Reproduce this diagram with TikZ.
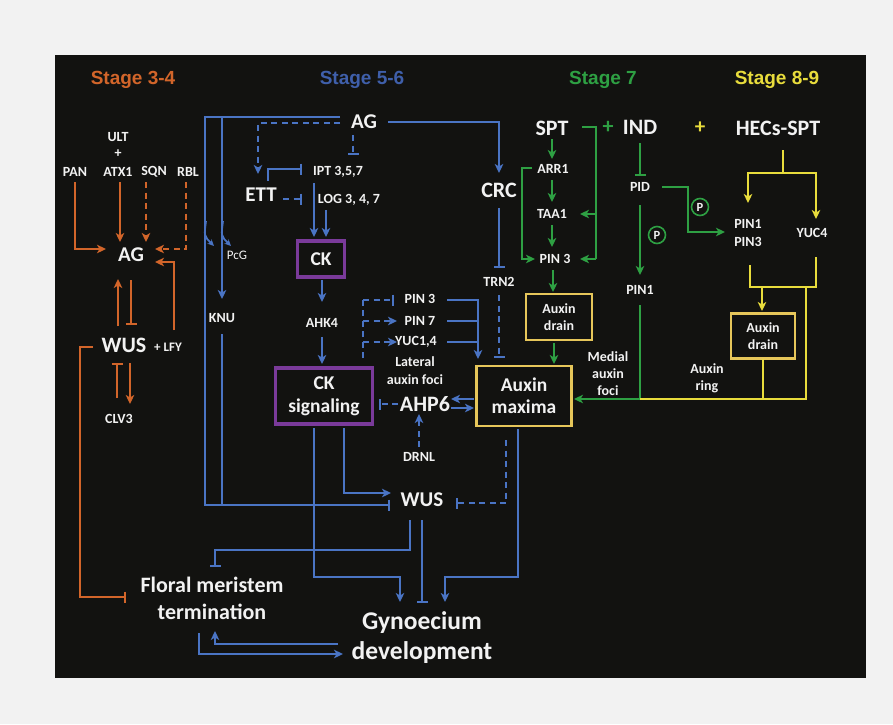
\documentclass[tikz,border=0pt]{standalone}
\usepackage{fontspec}
\setmainfont{Carlito}
\newfontfamily\arialb{Liberation Sans}
\usetikzlibrary{arrows.meta}
\definecolor{bgc}{HTML}{F2F2F2}
\definecolor{panel}{HTML}{121210}
\definecolor{cor}{HTML}{D2652A}
\definecolor{cbl}{HTML}{4A74C4}
\definecolor{cblt}{HTML}{3F5FAA}
\definecolor{cgr}{HTML}{2EA043}
\definecolor{cye}{HTML}{E8DC3C}
\definecolor{cbox}{HTML}{E6C65A}
\definecolor{cpu}{HTML}{7A3A9A}
\definecolor{txt}{HTML}{F2F2F2}
\begin{document}
\begin{tikzpicture}[x=1pt,y=-1pt,
 lab/.style={text=txt,font=\bfseries\fontsize{14}{16}\selectfont,inner sep=1pt,align=center},
 small/.style={text=txt,font=\bfseries\fontsize{13}{15}\selectfont,inner sep=1pt},
 big/.style={text=txt,font=\bfseries\fontsize{21}{23}\selectfont,inner sep=1pt,align=center},
 stg/.style={font=\arialb\bfseries\fontsize{19}{21}\selectfont,inner sep=0pt},
 ln/.style={line width=2pt},
 arr/.style={ln,-{Stealth[length=9pt,width=8.5pt,inset=2.5pt]}},
 inh/.style={ln,-{Bar[width=11pt]}},
 dsh/.style={dash pattern=on 6pt off 4.5pt},
 pbox/.style={draw=cpu,line width=3.2pt,text=txt,font=\bfseries\fontsize{19.5}{23}\selectfont,align=center,inner sep=0pt},
 ybox/.style={draw=cbox,line width=2.8pt,text=txt,align=center,inner sep=0pt},
 pc/.style={draw=cgr,circle,line width=1.6pt,minimum size=17pt,inner sep=0pt,text=txt,font=\bfseries\fontsize{12.5}{13}\selectfont}
]
\fill[bgc] (0,0) rectangle (893,724);
\fill[panel] (55,55) rectangle (866,678);

% stage headings
\node[stg,text=cor] (s1) at (133,80) {Stage 3-4};
\node[stg,text=cblt] (s2) at (362,80) {Stage 5-6};
\node[stg,text=cgr] (s3) at (603,80) {Stage 7};
\node[stg,text=cye] (s4) at (777,80) {Stage 8-9};

% ---------- stage 3-4 (orange)
\node[lab] (ult) at (118,137) {ULT};
\node[lab] (plus1) at (118,154) {+};
\node[lab] (pan) at (75,172) {PAN};
\node[lab] (atx) at (118,172) {ATX1};
\node[lab] (sqn) at (154,172) {SQN};
\node[lab] (rbl) at (188,172) {RBL};
\node[big] (agl) at (131,255) {AG};
\node[big,font=\bfseries\fontsize{22}{24}\selectfont] (wusl) at (124,345) {WUS};
\node[small] (lfy) at (168,347) {+ LFY};
\node[lab] (clv) at (119,419) {CLV3};

\draw[arr,cor] (75,182) |- (106,249);
\draw[arr,cor] (120,182) -- (120,242);
\draw[arr,cor,dsh] (146,182) -- (146,242);
\draw[arr,cor,dsh] (186,182) |- (155,249);
\draw[arr,cor] (174,330) |- (155,262);
\draw[arr,cor] (118,326) -- (118,279);
\draw[inh,cor] (131,280) -- (131,325);
\draw[inh,cor] (117,398) -- (117,363);
\draw[arr,cor] (130,363) -- (130,404);

% ---------- stage 5-6 (blue)
\node[big] (ag) at (364,122) {AG};
\node[big] (ett) at (261,195) {ETT};
\node[lab] (ipt) at (338,172) {IPT 3,5,7};
\node[lab] (log) at (349,200) {LOG 3, 4, 7};
\node[pbox,minimum width=47pt,minimum height=36pt] (ck) at (321,259) {CK};
\node[lab] (ahk) at (322,323) {AHK4};
\node[pbox,minimum width=97pt,minimum height=56pt] (cks) at (324,396) {CK\\signaling};
\node[lab] (knu) at (222,318) {KNU};
\node[text=txt,font=\fontsize{13}{15}\selectfont,inner sep=1pt] (pcg) at (237,255) {PcG};
\node[big,font=\bfseries\fontsize{22}{24}\selectfont] (crc) at (499,190) {CRC};
\node[lab] (trn) at (499,282) {TRN2};
\node[lab] (pin3b) at (420,299) {PIN 3};
\node[lab] (pin7) at (420,321) {PIN 7};
\node[lab] (yuc14) at (416,342) {YUC1,4};
\node[lab,font=\bfseries\fontsize{14}{18}\selectfont] (lat) at (415,371) {Lateral\\auxin foci};
\node[big,font=\bfseries\fontsize{22}{24}\selectfont] (ahp) at (425,404) {AHP6};
\node[lab] (drnl) at (419,457) {DRNL};
\node[ybox,minimum width=95pt,minimum height=60pt,font=\bfseries\fontsize{19.5}{22}\selectfont] (amax) at (524,396) {Auxin\\maxima};
\node[big] (wus) at (422,500) {WUS};
\node[big,font=\bfseries\fontsize{22}{27}\selectfont] (fmt) at (212,598) {Floral meristem\\termination};
\node[big,font=\bfseries\fontsize{25.5}{30}\selectfont] (gyn) at (422,638) {Gynoecium\\development};

\draw[inh,cbl] (340,117) -- (205,117) -- (205,505) -- (390,505);
\draw[arr,cbl] (222,117) -- (222,299);
\draw[cbl,ln] (222,334) -- (222,505);
\draw[cbl,line width=1.8pt,-{Stealth[length=6.5pt,width=6pt]}] (206,221) .. controls (204,236) .. (214,246);
\draw[cbl,line width=1.8pt,-{Stealth[length=6.5pt,width=6pt]}] (223,221) .. controls (221,236) .. (231,246);
\draw[arr,cbl,dsh] (340,123) -- (258,123) -- (258,174);
\draw[inh,cbl,dsh] (353,135) -- (353,155);
\draw[inh,cbl] (268,181) |- (302,169);
\draw[inh,cbl,dsh] (283,199) -- (302,199);
\draw[arr,cbl] (314,183) -- (314,237);
\draw[arr,cbl] (326,210) -- (326,237);
\draw[arr,cbl] (322,280) -- (322,302);
\draw[arr,cbl] (322,337) -- (322,364);
\draw[arr,cbl] (344,428) |- (391,493);
\draw[arr,cbl] (314,428) |- (400,577) -- (400,602);
\draw[inh,cbl] (410,520) |- (215,550) -- (215,567);
\draw[inh,cbl] (422,520) -- (422,603);
\draw[arr,cbl] (518,429) |- (445,577) -- (445,602);
\draw[inh,cbl,dsh] (506,440) |- (456,503);
\draw[arr,cbl] (338,644) -| (215,631);
\draw[arr,cbl] (199,633) |- (343,654);
\draw[arr,cbl] (388,122) -| (499,173);
\draw[inh,cbl] (499,208) -- (499,268);
\draw[inh,cbl,dsh] (499,295) -- (499,358);
\draw[cbl,ln,dsh] (363,358) -- (363,300);
\draw[inh,cbl,dsh] (363,300) -- (394,300);
\draw[arr,cbl,dsh] (363,321) -- (397,321);
\draw[arr,cbl,dsh] (363,342) -- (397,342);
\draw[arr,cbl] (447,300) -| (478,359);
\draw[cbl,ln] (447,321) -- (478,321);
\draw[cbl,ln] (447,342) -- (478,342);
\draw[inh,cbl,dsh] (398,404) -- (379,404);
\draw[arr,cbl] (474,399) -- (451,399);
\draw[arr,cbl] (451,408) -- (474,408);
\draw[arr,cbl,dsh] (419,447) -- (419,414);

% orange line to floral meristem termination
\draw[inh,cor] (93,347) -- (80,347) -- (80,597) -- (126,597);

% ---------- stage 7 (green)
\node[big,font=\bfseries\fontsize{22}{24}\selectfont] (spt) at (552,128) {SPT};
\node[lab] (arr1) at (553,169) {ARR1};
\node[lab] (taa) at (552,214) {TAA1};
\node[lab] (pin3g) at (555,259) {PIN 3};
\node[ybox,minimum width=66pt,minimum height=46pt,font=\bfseries\fontsize{14}{17}\selectfont] (drain1) at (559,317) {Auxin\\drain};
\node[text=cgr,font=\bfseries\fontsize{22}{24}\selectfont,inner sep=0pt] (plusg) at (608,127) {+};
\node[big,font=\bfseries\fontsize{22}{24}\selectfont] (ind) at (640,127) {IND};
\node[lab] (pid) at (640,187) {PID};
\node[pc] (p1) at (657,235) {P};
\node[lab] (pin1) at (640,290) {PIN1};
\node[pc] (p2) at (700,207) {P};
\node[lab,font=\bfseries\fontsize{14}{17}\selectfont] (medial) at (608,374) {Medial\\auxin\\foci};

\draw[arr,cgr] (552,139) -- (552,159);
\draw[arr,cgr] (552,180) -- (552,202);
\draw[arr,cgr] (552,225) -- (552,247);
\draw[arr,cgr] (553,270) -- (553,292);
\draw[arr,cgr] (554,343) -- (554,364);
\draw[arr,cgr] (532,168) -- (522,168) -- (522,259) -- (535,259);
\draw[cgr,ln] (582,127) -| (596,259);
\draw[arr,cgr] (596,214) -- (580,214);
\draw[arr,cgr] (596,259) -- (580,259);
\draw[inh,cgr] (640,143) -- (640,176);
\draw[arr,cgr] (640,205) -- (640,275);
\draw[arr,cgr] (640,305) |- (574,399);
\draw[arr,cgr] (662,187) -| (688,232) -- (725,232);

% ---------- stage 8-9 (yellow)
\node[text=cye,font=\bfseries\fontsize{21}{22}\selectfont,inner sep=0pt] (plusy) at (700,128) {+};
\node[big,font=\bfseries\fontsize{22}{24}\selectfont] (hec) at (778,128) {HECs-SPT};
\node[lab,font=\bfseries\fontsize{14}{18}\selectfont] (pin13) at (748,233) {PIN1\\PIN3};
\node[lab] (yuc4) at (812,233) {YUC4};
\node[ybox,minimum width=64pt,minimum height=45pt,font=\bfseries\fontsize{14}{17}\selectfont] (drain2) at (763,336) {Auxin\\drain};
\node[lab,font=\bfseries\fontsize{14}{17}\selectfont] (ring) at (707,378) {Auxin\\ring};

\draw[cye,ln] (783,150) -- (783,173);
\draw[arr,cye] (783,173) -| (748,203);
\draw[arr,cye] (783,173) -| (816,219);
\draw[cye,ln] (750,265) |- (816,287) -- (816,257);
\draw[arr,cye] (762,287) -- (762,311);
\draw[cye,ln] (806,287) -- (806,399) -- (640,399);
\draw[cye,ln] (763,359) -- (763,399);
\end{tikzpicture}
\end{document}
